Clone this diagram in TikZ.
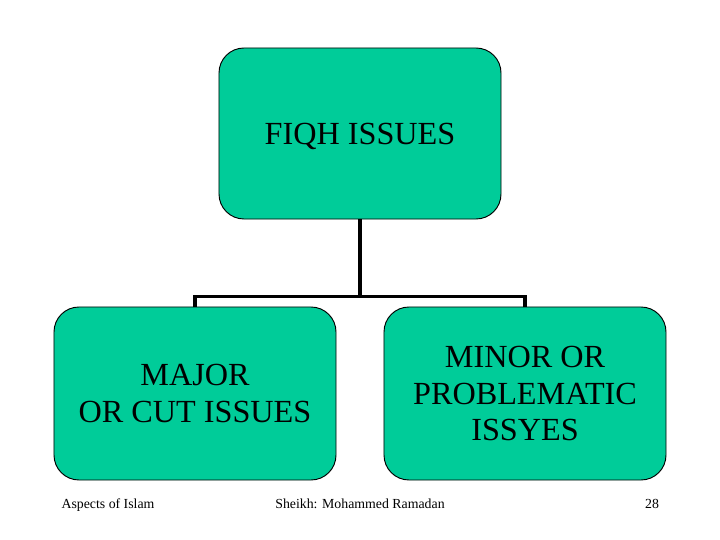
\documentclass[tikz,border=0pt]{standalone}
\usepackage{fontspec}
\setmainfont{Liberation Serif}
\usepackage{xcolor}
\usepackage{tikz}
\usetikzlibrary{positioning}
\definecolor{teal}{HTML}{00CC99}
\definecolor{ink}{HTML}{000000}

\begin{document}
\begin{tikzpicture}[x=0.03cm,y=-0.03cm,every node/.style={text=ink},
  bx/.style={draw=ink,line width=0.8pt,rounded corners=0.75cm,fill=teal,
    minimum width=8.46cm,align=center,font=\fontsize{27.5}{31}\selectfont},
  ln/.style={line width=2.7pt,ink},
  ft/.style={font=\fontsize{11.8}{14}\selectfont,anchor=base}]
  \useasboundingbox (0,0) rectangle (720,540);
  \node[bx,minimum height=5.13cm,text depth=0pt] (fiqh) at (360,133.5) {FIQH ISSUES};
  \node[bx,minimum height=5.19cm] (major) at (195,393.5) {MAJOR\\OR CUT ISSUES};
  \node[bx,minimum height=5.19cm] (minor) at (525,393.5) {MINOR OR\\PROBLEMATIC\\ISSYES};
  \draw[ln] (fiqh.south) -- ++(0,77) -| (major.north);
  \draw[ln] (fiqh.south) -- ++(0,77) -| (minor.north);
  \node[ft] (aspects) at (108,508) {Aspects of Islam};
  \node[ft] (sheikh) at (360,508) {Sheikh: Mohammed Ramadan};
  \node[ft] (page) at (652,508) {28};
\end{tikzpicture}
\end{document}
